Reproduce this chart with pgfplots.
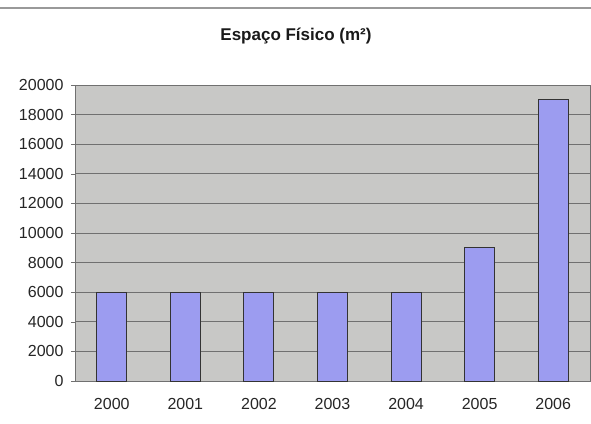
\documentclass[border=0pt]{standalone}
\usepackage{fontspec}
\setmainfont{Liberation Sans}
\usepackage{pgfplots}
\pgfplotsset{compat=1.18}
\definecolor{bgray}{HTML}{C8C8C6}
\definecolor{barc}{HTML}{9C9CF0}
\definecolor{gridc}{HTML}{707070}
\begin{document}
\begin{tikzpicture}[x=1pt,y=1pt]
\path[use as bounding box,fill=white] (0,0) rectangle (591,423);
\draw[gray!80,line width=1.2pt] (0,415) -- (591,415);
\node[font=\bfseries\fontsize{17}{20}\selectfont, text=black!90] at (296,387) {Espaço Físico (m²)};
\begin{axis}[
  at={(75pt,42pt)}, anchor=south west,
  scale only axis, width=515pt, height=296pt,
  xmin=-0.5, xmax=6.5, ymin=0, ymax=20000,
  ytick={0,2000,...,20000},
  xtick=data,
  xticklabels={2000,2001,2002,2003,2004,2005,2006},
  scaled y ticks=false,
  /pgf/number format/assume math mode=true,
  yticklabel={\pgfmathprintnumber[fixed,1000 sep={}]{\tick}},
  tick label style={font=\fontsize{16}{18}\selectfont, text=black!85},
  ymajorgrids, grid style={gridc, line width=0.6pt},
  axis background/.style={fill=bgray},
  axis line style={gridc},
  tick style={gridc},
  y tick label style={xshift=-4pt},
  x tick label style={yshift=-10pt},
  major x tick style={draw=none},
  tick align=outside, major tick length=4pt,
  ybar, bar width=30pt,
]
\addplot[fill=barc, draw=black!80, line width=1pt] coordinates {(0,6000) (1,6000) (2,6000) (3,6000) (4,6000) (5,9000) (6,19000)};
\end{axis}
\end{tikzpicture}
\end{document}
